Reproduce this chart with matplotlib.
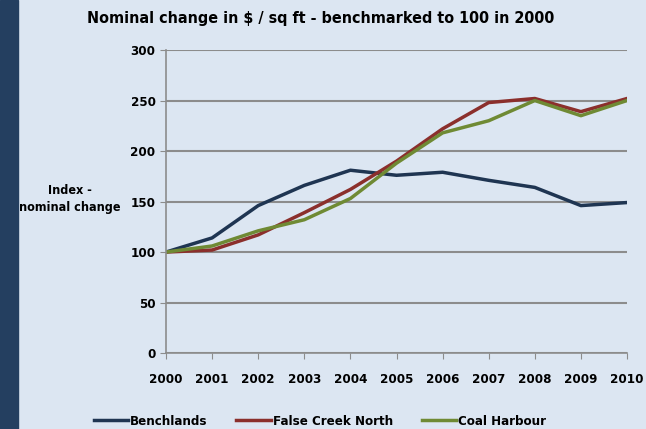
import matplotlib.pyplot as plt
import matplotlib.patches as patches

years = [2000, 2001, 2002, 2003, 2004, 2005, 2006, 2007, 2008, 2009, 2010]
benchlands = [100, 114, 146, 166, 181, 176, 179, 171, 164, 146, 149]
false_creek = [100, 102, 117, 139, 162, 190, 222, 248, 252, 239, 252]
coal_harbour = [100, 106, 121, 132, 153, 188, 218, 230, 250, 235, 250]

plt.rcParams['font.family'] = ['DejaVu Sans']
plt.rcParams['font.stretch'] = 'condensed'
plt.rcParams['font.weight'] = 'bold'

bg = '#dce6f2'
fig = plt.figure(figsize=(6.46, 4.29), dpi=100, facecolor=bg)
# dark stripe on the left
fig.patches.append(patches.Rectangle((0, 0), 18 / 646, 1, transform=fig.transFigure,
                                     color='#243f60', zorder=0))

ax = fig.add_axes([0.257, 0.177, 0.7136, 0.7064])
ax.set_facecolor(bg)

ax.plot(years, benchlands, color='#1f3552', linewidth=2.5, label='Benchlands')
ax.plot(years, false_creek, color='#8b2f2c', linewidth=2.5, label='False Creek North')
ax.plot(years, coal_harbour, color='#6f8a34', linewidth=2.5, label='Coal Harbour')

ax.set_xlim(2000, 2010)
ax.set_ylim(0, 300)
ax.set_yticks(range(0, 301, 50))
ax.set_xticks(years)
ax.set_xticklabels([str(y) for y in years])
ax.grid(axis='y', color='#8c8c8c', linewidth=1.5)
ax.set_axisbelow(True)
for s in ['top', 'right']:
    ax.spines[s].set_visible(False)
for s in ['left', 'bottom']:
    ax.spines[s].set_color('#8c8c8c')
    ax.spines[s].set_linewidth(1.2)
ax.tick_params(axis='both', colors='#8c8c8c', labelcolor='black', labelsize=9.5, length=4)
ax.tick_params(axis='x', pad=10)

fig.text(0.497, 0.957, 'Nominal change in $ / sq ft - benchmarked to 100 in 2000',
         ha='center', va='center', fontsize=11.5, fontweight='bold')
fig.text(0.108, 0.535, 'Index -\nnominal change', ha='center', va='center',
         fontsize=9, fontweight='bold', linespacing=1.4)

ax.legend(loc='center', bbox_to_anchor=(0.495, 0.018), bbox_transform=fig.transFigure,
          ncol=3, frameon=False, fontsize=9.5, handlelength=2.6, columnspacing=2.2,
          handletextpad=0.15)

plt.savefig('out.png', dpi=100, facecolor=bg)
